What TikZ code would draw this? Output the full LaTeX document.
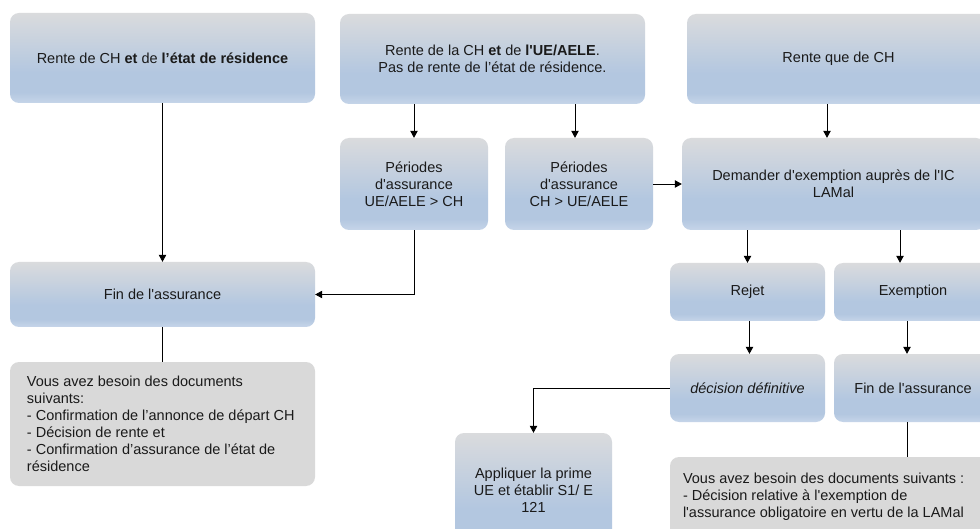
\documentclass[tikz,border=0pt]{standalone}
\usepackage{fontspec}
\setmainfont{Liberation Sans}[Ligatures=TeXOff]
\usetikzlibrary{arrows.meta,calc}
\definecolor{topg}{HTML}{DADBDD}
\definecolor{midb}{HTML}{B3C7E0}
\definecolor{botb}{HTML}{C6D5E9}
\definecolor{noteg}{HTML}{D9D9D9}
\definecolor{txt}{HTML}{1A1A1A}
\pgfdeclareverticalshading{boxshade}{100bp}{color(0bp)=(botb); color(25bp)=(botb); color(31bp)=(midb); color(42bp)=(midb); color(75bp)=(topg); color(100bp)=(topg)}
\begin{document}
\begin{tikzpicture}[x=1pt,y=-1pt,
  every node/.style={text=txt,font=\fontsize{14.5}{17}\selectfont},
  bluebox/.style={rounded corners=9pt,shading=boxshade,draw=none,inner sep=0pt,align=center},
  notebox/.style={rounded corners=9pt,fill=noteg,draw=none,inner sep=0pt},
  notetext/.style={inner sep=0pt,align=left,anchor=west},
  conn/.style={draw=black,line width=0.8pt},
  arr/.style={conn,-{Triangle[width=7.5pt,length=7pt]}}]
\useasboundingbox (0,0) rectangle (980,529);
\fill[white] (0,0) rectangle (980,529);
\clip (0,0) rectangle (980,529);
% top row
\node[bluebox,minimum width=305pt,minimum height=90pt] (A) at (162.5,58) {Rente de CH \textbf{et} de \textbf{l’état de résidence}};
\node[bluebox,minimum width=305pt,minimum height=90pt] (B) at (492.5,59) {Rente de la CH \textbf{et} de \textbf{l'UE/AELE}.\\Pas de rente de l’état de résidence.};
\node[bluebox,minimum width=303pt,minimum height=90pt] (C) at (838.5,59) {Rente que de CH};
% second row
\node[bluebox,minimum width=148pt,minimum height=92pt] (P1) at (414,184) {Périodes\\d'assurance\\UE/AELE > CH};
\node[bluebox,minimum width=148pt,minimum height=92pt] (P2) at (579,184) {Périodes\\d'assurance\\CH > UE/AELE};
\node[bluebox,minimum width=303pt,minimum height=92pt] (D) at (833.5,184) {Demander d'exemption auprès de l'IC\\LAMal};
% third row
\node[bluebox,minimum width=305pt,minimum height=65pt] (FinL) at (162.5,294.5) {Fin de l'assurance};
\node[bluebox,minimum width=155pt,minimum height=58pt] (Rejet) at (747.5,292) {Rejet};
\node[bluebox,minimum width=158pt,minimum height=58pt] (Exem) at (913,292) {Exemption};
% fourth row
\node[bluebox,minimum width=155pt,minimum height=68pt] (Dec) at (747.5,388) {\itshape décision définitive};
\node[bluebox,minimum width=158pt,minimum height=68pt] (FinR) at (913,388) {Fin de l'assurance};
% notes
\node[notebox,minimum width=305pt,minimum height=124pt] (NoteL) at (162.5,424) {};
\node[notetext] (NoteLtxt) at ([xshift=17pt]NoteL.west) {Vous avez besoin des documents\\suivants:\\- Confirmation de l’annonce de départ CH\\- Décision de rente et\\- Confirmation d’assurance de l’état de\\résidence};
\node[bluebox,minimum width=157pt,minimum height=114pt] (Appl) at (533.5,490) {Appliquer la prime\\UE et établir S1/ E\\121};
\node[notebox,minimum width=320pt,minimum height=80pt] (NoteR) at (830,497) {};
\node[notetext] (NoteRtxt) at ([xshift=13pt]NoteR.west) {Vous avez besoin des documents suivants :\\- Décision relative à l'exemption de\\l'assurance obligatoire en vertu de la LAMal};
% connectors
\draw[arr] (A) -- (FinL);
\draw[arr] (B.south -| P1.north) -- (P1.north);
\draw[arr] ([xshift=-4pt]P2.north |- B.south) -- ([xshift=-4pt]P2.north);
\draw[arr] ([xshift=-6.5pt]D.north |- C.south) -- ([xshift=-6.5pt]D.north);
\draw[arr] (P2.east) -- (D.west);
\draw[arr] (P1.south) |- (FinL.east);
\draw[arr] (D.south -| Rejet.north) -- (Rejet.north);
\draw[arr] ([xshift=-13pt]Exem.north |- D.south) -- ([xshift=-13pt]Exem.north);
\draw[arr] ([xshift=2pt]Rejet.south) -- ([xshift=2pt]Dec.north);
\draw[arr] ([xshift=-6pt]Exem.south) -- ([xshift=-6pt]FinR.north);
\draw[arr] (Dec.west) -| (Appl.north);
\draw[conn] (FinL.south) -- (NoteL.north);
\draw[conn] ([xshift=-6pt]FinR.south) -- ([xshift=-6pt]FinR.south |- NoteR.north);
\end{tikzpicture}
\end{document}
